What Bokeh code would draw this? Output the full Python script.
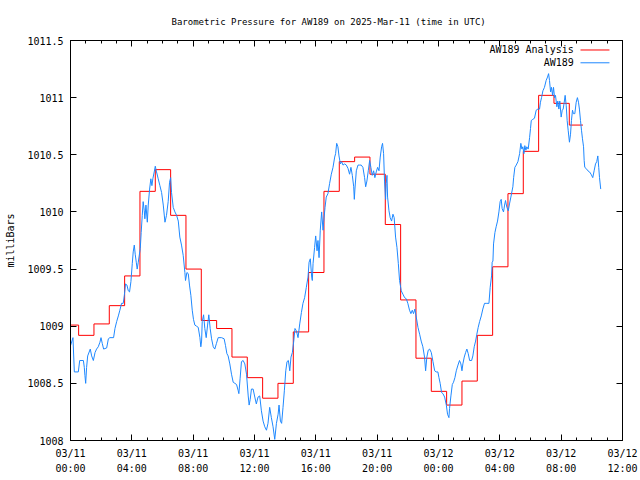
from bokeh.plotting import figure
from bokeh.models import FixedTicker, LinearAxis, Range1d, Label
from bokeh.embed import file_html
from bokeh.resources import INLINE

title_text = "Barometric Pressure for AW189 on 2025-Mar-11 (time in UTC)"
y_label = "milliBars"
series_names = ["AW189 Analysis", "AW189"]

# hours since 2025-03-11 00:00 UTC
x_tick_hours = [0, 4, 8, 12, 16, 20, 24, 28, 32, 36]
x_tick_labels = ["03/11\n00:00", "03/11\n04:00", "03/11\n08:00", "03/11\n12:00",
                 "03/11\n16:00", "03/11\n20:00", "03/12\n00:00", "03/12\n04:00",
                 "03/12\n08:00", "03/12\n12:00"]
x_minor_hours = [0, 1, 2, 3, 4, 5, 6, 7, 8, 9, 10, 11, 12, 13, 14, 15, 16, 17, 18,
                 19, 20, 21, 22, 23, 24, 25, 26, 27, 28, 29, 30, 31, 32, 33, 34, 35, 36]
y_ticks = [1008.0, 1008.5, 1009.0, 1009.5, 1010.0, 1010.5, 1011.0, 1011.5]
y_tick_labels = ["1008", "1008.5", "1009", "1009.5", "1010", "1010.5", "1011", "1011.5"]

# analysis (hourly steps)
analysis_hours = [0.0, 0.53, 1.53, 2.53, 3.53, 4.53, 5.53, 6.53, 7.53, 8.53, 9.53,
                  10.53, 11.53, 12.53, 13.53, 14.53, 15.53, 16.53, 17.53, 18.53,
                  19.53, 20.53, 21.53, 22.53, 23.53, 24.53, 25.53, 26.53, 27.53,
                  28.53, 29.53, 30.53, 31.53, 32.53, 33.42]
analysis_values = [1009.01, 1008.92, 1009.02, 1009.18, 1009.44, 1010.18, 1010.37,
                   1009.97, 1009.50, 1009.05, 1008.98, 1008.73, 1008.55, 1008.37,
                   1008.50, 1008.95, 1009.47, 1010.18, 1010.44, 1010.48, 1010.33,
                   1009.89, 1009.23, 1008.72, 1008.43, 1008.31, 1008.52, 1008.92,
                   1009.52, 1010.16, 1010.53, 1011.02, 1010.95, 1010.76, 1010.76]

# observations
obs_hours = [0.0, 0.16, 0.25, 0.51, 0.60, 0.84, 0.90, 0.94, 0.99, 1.05, 1.12, 1.29, 1.38,
             1.49, 1.60, 1.70, 1.81, 1.92, 1.99, 2.07, 2.16, 2.36, 2.47, 2.57, 2.81, 2.90,
             3.01, 3.12, 3.22, 3.33, 3.44, 3.51, 3.59, 3.68, 3.77, 3.85, 3.94, 4.03, 4.09,
             4.16, 4.22, 4.29, 4.35, 4.42, 4.55, 4.61, 4.68, 4.74, 4.81, 4.85, 4.92, 5.01,
             5.07, 5.16, 5.24, 5.31, 5.37, 5.46, 5.53, 5.61, 5.72, 5.83, 5.94, 6.05, 6.16,
             6.26, 6.37, 6.46, 6.53, 6.59, 6.70, 6.81, 6.92, 7.03, 7.13, 7.24, 7.35, 7.46,
             7.50, 7.59, 7.68, 7.76, 7.85, 7.94, 8.02, 8.11, 8.22, 8.33, 8.44, 8.50, 8.55,
             8.59, 8.68, 8.76, 8.85, 8.94, 9.02, 9.11, 9.20, 9.31, 9.41, 9.52, 9.63, 9.85,
             10.02, 10.11, 10.20, 10.28, 10.39, 10.50, 10.61, 10.72, 10.83, 10.93, 10.98,
             11.06, 11.15, 11.26, 11.37, 11.48, 11.59, 11.65, 11.72, 11.80,
             11.91, 12.02, 12.12, 12.23, 12.34, 12.45, 12.56, 12.67, 12.78, 12.88, 12.99,
             13.10, 13.21, 13.32, 13.43, 13.54, 13.60, 13.69, 13.77, 13.86, 13.95, 14.04,
             14.12, 14.21, 14.30, 14.38, 14.47, 14.56, 14.64, 14.73, 14.84, 14.95, 15.06,
             15.16, 15.27, 15.38, 15.49, 15.56, 15.64, 15.73, 15.77, 15.82, 15.92, 15.99,
             16.08, 16.14, 16.21, 16.29, 16.38, 16.47, 16.51, 16.60, 16.68, 16.79, 16.90,
             17.01, 17.12, 17.23, 17.29, 17.36, 17.44, 17.51, 17.60, 17.68, 17.77, 17.88,
             17.99, 18.10, 18.20, 18.29, 18.38, 18.47, 18.51, 18.55, 18.64, 18.75, 18.86,
             18.96, 19.07, 19.18, 19.25, 19.33, 19.42, 19.51, 19.59, 19.68, 19.77, 19.85,
             19.94, 20.03, 20.12, 20.20, 20.29, 20.35, 20.42, 20.48, 20.55, 20.59, 20.64,
             20.68, 20.77, 20.85, 20.94, 21.03, 21.11, 21.20, 21.29, 21.38, 21.46, 21.57,
             21.68, 21.79, 21.90, 22.00, 22.11, 22.20, 22.29, 22.37, 22.46, 22.55, 22.66,
             22.77, 22.87, 22.98, 23.09, 23.16, 23.24, 23.33, 23.42,
             23.53, 23.64, 23.75, 23.85, 23.96, 24.03, 24.11, 24.20, 24.29, 24.40, 24.51,
             24.59, 24.68, 24.72, 24.81, 24.90, 24.98, 25.07, 25.16, 25.27, 25.37, 25.46,
             25.53, 25.59, 25.68, 25.77, 25.85, 25.94, 26.03, 26.16, 26.24, 26.33, 26.42,
             26.50, 26.59, 26.68, 26.79, 26.89, 27.00, 27.11, 27.29, 27.37, 27.46, 27.50,
             27.55, 27.59, 27.68, 27.76, 27.85, 27.94, 28.02, 28.09, 28.15, 28.24, 28.31,
             28.37, 28.46, 28.55, 28.63, 28.72,
             28.85, 28.90, 28.98, 29.07, 29.18, 29.29, 29.37, 29.44, 29.50, 29.57, 29.63,
             29.70, 29.76, 29.85, 29.94, 30.00, 30.05, 30.15, 30.26, 30.37, 30.48, 30.59,
             30.65, 30.72, 30.81, 30.91, 31.02, 31.11, 31.18, 31.24, 31.31, 31.37, 31.44,
             31.50, 31.57, 31.63, 31.72, 31.78, 31.85, 31.91, 32.00, 32.07, 32.13, 32.20,
             32.26, 32.33, 32.39, 32.46, 32.54, 32.61, 32.67, 32.74, 32.80, 32.89, 32.98,
             33.06, 33.13, 33.19, 33.26, 33.33, 33.39, 33.46, 33.50, 33.54, 33.63, 33.74,
             33.85, 33.95, 34.06, 34.15, 34.24, 34.32, 34.39, 34.45, 34.50, 34.58]
obs_values = [1008.83, 1008.90, 1008.60, 1008.60, 1008.70, 1008.70, 1008.64, 1008.57,
              1008.50, 1008.64, 1008.74, 1008.80, 1008.74, 1008.70, 1008.77, 1008.80,
              1008.82, 1008.86, 1008.90, 1008.85, 1008.80, 1008.81, 1008.89, 1008.90,
              1008.90, 1008.98, 1009.04, 1009.09, 1009.14, 1009.20, 1009.20, 1009.27,
              1009.37, 1009.36, 1009.31, 1009.30, 1009.39, 1009.55, 1009.65, 1009.71,
              1009.63, 1009.56, 1009.50, 1009.56, 1009.68, 1009.82, 1009.97, 1010.09,
              1010.01, 1009.94, 1010.06, 1009.91, 1010.06, 1010.20, 1010.29, 1010.23,
              1010.29, 1010.35, 1010.40, 1010.35, 1010.29, 1010.23, 1010.17, 1010.06,
              1009.91, 1009.97, 1010.09, 1010.26, 1010.30, 1010.17, 1010.04, 1010.00,
              1009.97, 1009.92, 1009.78, 1009.71, 1009.62, 1009.47, 1009.40, 1009.47,
              1009.46, 1009.36, 1009.27, 1009.14, 1009.06, 1009.01, 1009.00, 1008.99,
              1008.90, 1008.82, 1008.87, 1009.04, 1009.10, 1008.98, 1008.90, 1009.01,
              1009.10, 1008.98, 1008.89, 1008.82, 1008.80, 1008.85, 1008.90, 1008.90,
              1008.89, 1008.83, 1008.76, 1008.74, 1008.67, 1008.58, 1008.51, 1008.50,
              1008.49, 1008.44, 1008.41, 1008.54, 1008.69, 1008.70, 1008.67, 1008.58,
              1008.39, 1008.31, 1008.36, 1008.45,
              1008.45, 1008.38, 1008.32, 1008.38, 1008.39, 1008.26, 1008.17, 1008.12,
              1008.09, 1008.15, 1008.29, 1008.20, 1008.12, 1008.01, 1008.15, 1008.23,
              1008.31, 1008.17, 1008.15, 1008.29, 1008.44, 1008.61, 1008.69, 1008.70,
              1008.61, 1008.73, 1008.77, 1008.87, 1008.98, 1008.96, 1008.90, 1009.02,
              1009.12, 1009.20, 1009.25, 1009.34, 1009.43, 1009.56, 1009.59, 1009.43,
              1009.40, 1009.55, 1009.69, 1009.79, 1009.66, 1009.75, 1009.60, 1009.84,
              1010.00, 1009.84, 1009.91, 1010.04, 1010.13, 1010.16, 1010.25, 1010.33,
              1010.39, 1010.48, 1010.51, 1010.60, 1010.57, 1010.49, 1010.42, 1010.44,
              1010.41, 1010.42, 1010.41, 1010.38, 1010.33, 1010.39, 1010.32, 1010.22,
              1010.11, 1010.20, 1010.36, 1010.41, 1010.41, 1010.41, 1010.39, 1010.30,
              1010.22, 1010.27, 1010.36, 1010.45, 1010.39, 1010.32, 1010.36, 1010.30,
              1010.35, 1010.39, 1010.36, 1010.48, 1010.57, 1010.60, 1010.51, 1010.27,
              1010.11, 1010.25, 1010.32, 1010.13, 1010.01, 1009.95, 1009.92, 1009.98,
              1009.95, 1009.78, 1009.69, 1009.55, 1009.40, 1009.31, 1009.28, 1009.25,
              1009.24, 1009.20, 1009.14, 1009.11, 1009.14, 1009.11, 1009.15, 1009.08,
              1008.99, 1008.93, 1008.87, 1008.82, 1008.73, 1008.61, 1008.73, 1008.79,
              1008.80,
              1008.77, 1008.69, 1008.61, 1008.60, 1008.60, 1008.55, 1008.50, 1008.42,
              1008.41, 1008.38, 1008.31, 1008.23, 1008.20, 1008.28, 1008.39, 1008.49,
              1008.51, 1008.55, 1008.61, 1008.66, 1008.70, 1008.67, 1008.61, 1008.67,
              1008.73, 1008.77, 1008.80, 1008.76, 1008.70, 1008.70, 1008.74, 1008.82,
              1008.87, 1008.93, 1008.99, 1009.04, 1009.09, 1009.15, 1009.20, 1009.20,
              1009.20, 1009.34, 1009.44, 1009.56, 1009.57, 1009.72, 1009.82, 1009.87,
              1009.92, 1010.00, 1010.09, 1010.11, 1010.03, 1010.00, 1010.06, 1010.10,
              1010.04, 1010.01, 1010.07, 1010.13,
              1010.22, 1010.30, 1010.39, 1010.41, 1010.44, 1010.51, 1010.60, 1010.55,
              1010.57, 1010.51, 1010.58, 1010.54, 1010.57, 1010.55, 1010.65, 1010.73,
              1010.80, 1010.81, 1010.82, 1010.89, 1010.90, 1010.90, 1010.96, 1011.00,
              1011.06, 1011.09, 1011.15, 1011.18, 1011.21, 1011.15, 1011.05, 1011.09,
              1011.02, 1011.09, 1011.00, 1011.02, 1010.92, 1010.97, 1010.90, 1010.97,
              1010.83, 1010.89, 1010.90, 1010.96, 1011.02, 1010.93, 1010.80, 1010.71,
              1010.61, 1010.68, 1010.80, 1010.89, 1010.86, 1010.86, 1010.96, 1011.00,
              1010.96, 1010.90, 1010.80, 1010.71, 1010.64, 1010.57, 1010.45, 1010.39,
              1010.38, 1010.36, 1010.35, 1010.33, 1010.30, 1010.36, 1010.42, 1010.44,
              1010.49, 1010.39, 1010.30, 1010.20]

RED = "#ff0000"
BLUE = "#1e88ff"
FONT = "DejaVu Sans Mono"
FS = "10px"

p = figure(width=640, height=480, x_range=Range1d(0, 36), y_range=Range1d(1008, 1011.5),
           output_backend="svg", toolbar_location=None,
           min_border_left=70, min_border_right=18, min_border_top=40, min_border_bottom=40,
           x_axis_type=None, y_axis_type=None)
p.background_fill_color = "white"
p.border_fill_color = "white"
p.outline_line_color = "black"
p.outline_line_width = 1

p.title.text = title_text
p.title.text_font = FONT
p.title.text_font_size = "9px"
p.title.text_font_style = "normal"
p.title.text_color = "black"
p.title.align = "left"
p.title.offset = 101
p.title.standoff = 28

xt = FixedTicker(ticks=x_tick_hours, minor_ticks=x_minor_hours)
yt = FixedTicker(ticks=y_ticks, minor_ticks=[])

def style(ax, labels):
    ax.axis_line_color = "black"
    ax.major_tick_line_color = "black"
    ax.minor_tick_line_color = "black"
    ax.major_tick_in = 6
    ax.major_tick_out = 0
    ax.minor_tick_in = 3
    ax.minor_tick_out = 0
    ax.major_label_text_font = FONT
    if labels:
        ax.major_label_text_font_size = FS
        ax.major_label_text_color = "black"
    else:
        ax.major_label_text_font_size = "1px"
        ax.major_label_text_color = None
        ax.major_label_text_alpha = 0
        ax.major_label_standoff = 0

xb = LinearAxis(ticker=xt)
style(xb, True)
xb.major_label_overrides = {h: lab for h, lab in zip(x_tick_hours, x_tick_labels)}
xb.major_label_standoff = 7
xb.major_label_text_line_height = 1.4
p.add_layout(xb, "below")

xa = LinearAxis(ticker=xt)
style(xa, False)
p.add_layout(xa, "above")

yl = LinearAxis(ticker=yt, axis_label=y_label)
style(yl, True)
yl.major_label_overrides = {v: lab for v, lab in zip(y_ticks, y_tick_labels)}
yl.major_label_standoff = 7
yl.axis_label_text_font = FONT
yl.axis_label_text_font_size = FS
yl.axis_label_text_font_style = "normal"
yl.axis_label_text_color = "black"
yl.axis_label_standoff = 8
p.add_layout(yl, "left")

yr = LinearAxis(ticker=yt)
style(yr, False)
p.add_layout(yr, "right")

p.grid.visible = False

p.step(analysis_hours, analysis_values, mode="after", line_color=RED, line_width=1)
p.line(obs_hours, obs_values, line_color=BLUE, line_width=1)

# gnuplot-style key: label right-aligned, sample to its right
key_y = [1011.417, 1011.305]
key_colors = [RED, BLUE]
for name, ky, col in zip(series_names, key_y, key_colors):
    p.add_layout(Label(x=32.82, y=ky, text=name, text_align="right", text_baseline="middle",
                       text_font=FONT, text_font_size=FS, text_color="black"))
    p.segment(x0=[33.26], y0=[ky], x1=[35.15], y1=[ky], line_color=col, line_width=1)

open("out.html", "w").write(file_html(p, INLINE))
